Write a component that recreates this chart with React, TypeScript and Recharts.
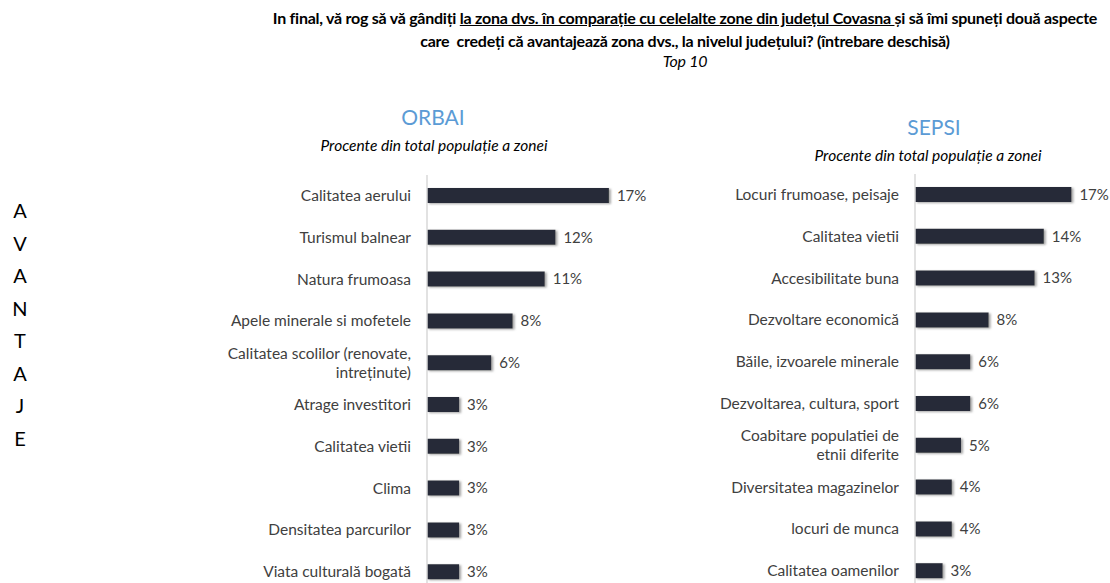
import React from "react";
import { Bar, BarChart, LabelList, XAxis, YAxis } from "recharts";

const ORBAI_LABELS = [
  "Calitatea aerului",
  "Turismul balnear",
  "Natura frumoasa",
  "Apele minerale si mofetele",
  "Calitatea scolilor (renovate,\nintreținute)",
  "Atrage investitori",
  "Calitatea vietii",
  "Clima",
  "Densitatea parcurilor",
  "Viata culturală bogată",
];
const ORBAI_VALUES = [17, 12, 11, 8, 6, 3, 3, 3, 3, 3];

const SEPSI_LABELS = [
  "Locuri frumoase, peisaje",
  "Calitatea vietii",
  "Accesibilitate buna",
  "Dezvoltare economică",
  "Băile, izvoarele minerale",
  "Dezvoltarea, cultura, sport",
  "Coabitare populatiei de\netnii diferite",
  "Diversitatea magazinelor",
  "locuri de munca",
  "Calitatea oamenilor",
];
const SEPSI_VALUES = [17, 14, 13, 8, 6, 6, 5, 4, 4, 3];

const SIDE_LETTERS = ["A", "V", "A", "N", "T", "A", "J", "E"];

const FONT = "Lato, 'Open Sans', sans-serif";
const BAR = "#262C37";
const TEXT = "#404040";
const BLUE = "#5B9BD5";
const AXIS = "#D9D9D9";

function CatTick(props: any) {
  const { x, y, payload } = props;
  const lines = String(payload.value).split("\n");
  const lh = 19;
  const start = -((lines.length - 1) * lh) / 2;
  return (
    <text x={x} y={y} textAnchor="end" fill={TEXT} fontSize={15.5} fontFamily={FONT}>
      {lines.map((l, i) => (
        <tspan key={i} x={x} dy={i === 0 ? start + 5 : lh}>
          {l}
        </tspan>
      ))}
    </text>
  );
}

function Panel({
  id,
  labels,
  values,
  left,
  axisW,
  plotW,
  top,
}: {
  id: string;
  labels: string[];
  values: number[];
  left: number;
  axisW: number;
  plotW: number;
  top: number;
}) {
  const data = labels.map((name, i) => ({ name, value: values[i] }));
  const width = axisW + plotW + 40;
  return (
    <div style={{ position: "absolute", left, top: 0 }}>
      <BarChart
        width={width}
        height={top + 418}
        data={data}
        layout="vertical"
        margin={{ top, right: 40, bottom: 0, left: 0 }}
        barCategoryGap={0}
      >
        <defs>
          <filter id={`sh-${id}`} x="-10%" y="-40%" width="130%" height="200%">
            <feDropShadow dx="2" dy="1" stdDeviation="1.3" floodColor="#7f7f7f" floodOpacity="0.7" />
          </filter>
        </defs>
        <XAxis type="number" domain={[0, 20]} hide />
        <YAxis
          type="category"
          dataKey="name"
          width={axisW}
          tick={<CatTick />}
          tickLine={false}
          axisLine={{ stroke: AXIS, strokeWidth: 1.5 }}
          tickMargin={10}
          interval={0}
        />
        <Bar dataKey="value" fill={BAR} barSize={15} isAnimationActive={false} filter={`url(#sh-${id})`}>
          <LabelList
            dataKey="value"
            position="right"
            offset={8}
            formatter={(v: any) => `${v}%`}
            style={{ fill: TEXT, fontSize: 15, fontFamily: FONT }}
          />
        </Bar>
      </BarChart>
    </div>
  );
}

export default function App() {
  return (
    <div
      style={{
        position: "absolute",
        left: 0,
        top: 0,
        width: 1110,
        height: 583,
        overflow: "hidden",
        background: "#fff",
        fontFamily: FONT,
      }}
    >
      <div
        style={{
          position: "absolute",
          left: 240,
          width: 890,
          top: 6,
          textAlign: "center",
          fontSize: 16,
          fontWeight: 700,
          color: "#000",
          lineHeight: "23px",
          letterSpacing: -0.25,
        }}
      >
        In final, vă rog să vă gândiți <u>la zona dvs. în comparație cu celelalte zone din județul Covasna </u>și să îmi
        spuneți două aspecte
        <br />
        care&nbsp; credeți că avantajează zona dvs., la nivelul județului? (întrebare deschisă)
        <div style={{ fontStyle: "italic", fontWeight: 400, lineHeight: "18px" }}>Top 10</div>
      </div>

      <div style={{ position: "absolute", left: 233, width: 400, top: 104, textAlign: "center", color: BLUE, fontSize: 21 }}>
        ORBAI
      </div>
      <div style={{ position: "absolute", left: 234, width: 400, top: 136, textAlign: "center", color: "#000", fontSize: 15.5, fontStyle: "italic" }}>
        Procente din total populație a zonei
      </div>
      <div style={{ position: "absolute", left: 734, width: 400, top: 114, textAlign: "center", color: BLUE, fontSize: 21 }}>
        SEPSI
      </div>
      <div style={{ position: "absolute", left: 728, width: 400, top: 146, textAlign: "center", color: "#000", fontSize: 15.5, fontStyle: "italic" }}>
        Procente din total populație a zonei
      </div>

      <div style={{ position: "absolute", left: 6, width: 28, top: 194, textAlign: "center", color: "#000", fontSize: 20, lineHeight: "32.5px" }}>
        {SIDE_LETTERS.map((l, i) => (
          <div key={i}>{l}</div>
        ))}
      </div>

      <Panel id="orbai" labels={ORBAI_LABELS} values={ORBAI_VALUES} left={200} axisW={227} plotW={214} top={175} />
      <Panel id="sepsi" labels={SEPSI_LABELS} values={SEPSI_VALUES} left={700} axisW={215} plotW={184} top={174} />
    </div>
  );
}
